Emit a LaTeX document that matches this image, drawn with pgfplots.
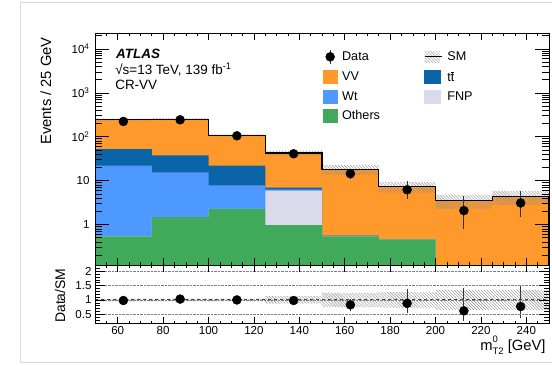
\documentclass[border=0pt]{standalone}
\usepackage{fontspec}
\setmainfont{Liberation Sans}
\usepackage{pgfplots}
\usepackage{pgfplotstable}
\pgfplotsset{compat=1.18}
\usetikzlibrary{patterns}
\definecolor{cVV}{RGB}{255,153,44}
\definecolor{cTT}{RGB}{12,100,168}
\definecolor{cWT}{RGB}{77,153,255}
\definecolor{cOT}{RGB}{64,170,90}
\definecolor{cFNP}{RGB}{218,218,234}

\pgfplotstableread{
x vv tt wt fnp ot
50 0.01 0.01 0.01 0.01 0.01
50 245 52 21.9 0.54 0.54
75 252 37.6 15.4 1.47 1.47
100 107 21.9 7.8 2.27 2.27
125 42.6 6.9 6.3 5.9 0.97
150 18.1 0.56 0.55 0.54 0.54
175 7.3 0.46 0.46 0.46 0.46
200 3.5 0.01 0.01 0.01 0.01
225 4.33 0.01 0.01 0.01 0.01
250 4.33 0.01 0.01 0.01 0.01
250 0.01 0.01 0.01 0.01 0.01
}\hist

\begin{document}
\begin{tikzpicture}[x=1bp,y=1bp]
\useasboundingbox (0,0) rectangle (552,365);
\draw[gray!30, line width=1.5bp] (600,2.5) -- (20.5,2.5) -- (20.5,362.5) -- (600,362.5);

\begin{axis}[
  name=top,
  at={(95bp,100bp)}, anchor=south west,
  scale only axis, width=454bp, height=232bp,
  xmin=50, xmax=250, ymode=log, ymin=0.12, ymax=23000,
  axis on top, tick align=inside,
  xtick={60,80,...,240}, minor xtick={50,55,...,250}, xticklabel=\empty,
  ytick={1,10,100,1000,10000},
  yticklabels={1,10,10\textsuperscript{2},10\textsuperscript{3},10\textsuperscript{4}},
  minor ytick={0.2,0.3,0.4,0.5,0.6,0.7,0.8,0.9,2,3,4,5,6,7,8,9,20,30,40,50,60,70,80,90,200,300,400,500,600,700,800,900,2000,3000,4000,5000,6000,7000,8000,9000,20000},
  xtick style={/pgfplots/major tick length=7bp,/pgfplots/minor tick length=3.5bp},
  ytick style={/pgfplots/major tick length=14bp,/pgfplots/minor tick length=7bp},
  tick style={black, line width=0.6bp},
  axis line style={black, line width=0.8bp},
  tick label style={font=\fontsize{11.6}{13}\selectfont},
  yticklabel style={xshift=-2bp},
  ylabel={Events / 25 GeV},
  ylabel style={at={(axis description cs:-0.108,0.75)}, anchor=center, rotate=0, font=\fontsize{14.8}{16}\selectfont},
  legend columns=2,
  legend cell align=left,
  legend style={at={(axis description cs:0.5015,0.930)}, anchor=north west,
    draw=none, fill=none, inner sep=0pt, outer sep=0pt,
    font=\fontsize{12.7}{14}\selectfont,
    nodes={inner sep=0pt},
    column sep=4.4bp, row sep=6bp,
    /tikz/every even column/.append style={column sep=44bp}},
]
\addlegendimage{legend image code/.code={\draw[black!80,line width=1.2bp] (7.3bp,-7bp)--(7.3bp,7bp); \fill[black] (7.3bp,0bp) circle (4.5bp);}}
\addlegendentry{Data}
\addlegendimage{legend image code/.code={\path[draw=none,pattern=north west lines,pattern color=black!35] (0bp,-5.5bp) rectangle (15.3bp,5.5bp); \draw[black,line width=1.2bp] (0bp,0bp)--(17.7bp,0bp);}}
\addlegendentry{SM}
\addlegendimage{legend image code/.code={\fill[cVV] (0bp,-6.5bp) rectangle (14.6bp,6.5bp);}}
\addlegendentry{VV}
\addlegendimage{legend image code/.code={\fill[cTT] (0bp,-6.5bp) rectangle (15.3bp,6.5bp);}}
\addlegendentry{t$\overline{\mbox{t}}$}
\addlegendimage{legend image code/.code={\fill[cWT] (0bp,-6.5bp) rectangle (14.6bp,6.5bp);}}
\addlegendentry{Wt}
\addlegendimage{legend image code/.code={\fill[cFNP] (0bp,-6.5bp) rectangle (15.3bp,6.5bp);}}
\addlegendentry{FNP}
\addlegendimage{legend image code/.code={\fill[cOT] (0bp,-6.5bp) rectangle (14.6bp,6.5bp);}}
\addlegendentry{Others}

\addplot[forget plot, const plot mark left, draw=none, fill=cVV] table[x=x,y=vv]{\hist};
\addplot[forget plot, const plot mark left, draw=none, fill=cTT] table[x=x,y=tt]{\hist};
\addplot[forget plot, const plot mark left, draw=none, fill=cWT] table[x=x,y=wt]{\hist};
\addplot[forget plot, const plot mark left, draw=none, fill=cFNP] table[x=x,y=fnp]{\hist};
\addplot[forget plot, const plot mark left, draw=none, fill=cOT] table[x=x,y=ot]{\hist};

\addplot[forget plot, draw=none, pattern=north west lines, pattern color=black!45] coordinates {
(50,257.3)(75,257.3)(75,264.6)(100,264.6)(100,112.4)(125,112.4)(125,48.1)(150,48.1)
(150,22.6)(175,22.6)(175,9.27)(200,9.27)(200,4.73)(225,4.73)(225,5.85)(250,5.85)
(250,2.81)(225,2.81)(225,2.28)(200,2.28)(200,5.33)(175,5.33)(175,13.6)(150,13.6)
(150,37.1)(125,37.1)(125,101.7)(100,101.7)(100,239.4)(75,239.4)(75,232.8)(50,232.8)} -- cycle;

\addplot[forget plot, const plot mark left, black, line width=1.1bp] table[x=x,y=vv]{\hist};

\addplot[forget plot, only marks, mark=*, mark size=4.5bp, black,
  error bars/.cd, y dir=both, y explicit, error mark=none,
  error bar style={line width=1.2bp, black!80}]
coordinates {
(62.5,223) +- (0,15)
(87.5,243) +- (0,15.6)
(112.5,105) +- (0,10)
(137.5,41) +- (0,6.4)
(162.5,14.4) += (0,3.4) -= (0,3.3)
(187.5,6.2) += (0,3.5) -= (0,2.4)
(212.5,2.08) += (0,2.5) -= (0,1.3)
(237.5,3.1) += (0,2.8) -= (0,1.63)
};

\node[anchor=base west, font=\fontsize{13.5}{15}\selectfont\bfseries\itshape] at (axis description cs:0.039,0.891) {ATLAS};
\node[anchor=base west, font=\fontsize{13.5}{15}\selectfont] at (axis description cs:0.037,0.819) {√s=13 TeV, 139 fb\textsuperscript{-1}};
\node[anchor=base west, font=\fontsize{13.5}{15}\selectfont] at (axis description cs:0.037,0.757) {CR-VV};
\end{axis}

\begin{axis}[
  at={(95bp,41.3bp)}, anchor=south west,
  scale only axis, width=454bp, height=58.7bp,
  xmin=50, xmax=250, ymin=0.17, ymax=2.22,
  axis on top, tick align=inside,
  xtick={60,80,...,240}, minor xtick={50,55,...,250},
  ytick={0.5,1,1.5,2},
  minor ytick={0.2,0.3,0.4,0.6,0.7,0.8,0.9,1.1,1.2,1.3,1.4,1.6,1.7,1.8,1.9,2.1,2.2},
  xtick style={/pgfplots/major tick length=7bp,/pgfplots/minor tick length=3bp},
  ytick style={/pgfplots/major tick length=10bp,/pgfplots/minor tick length=5bp},
  tick style={black, line width=0.6bp},
  axis line style={black, line width=0.8bp},
  /pgf/number format/assume math mode=true,
  tick label style={font=\fontsize{11.6}{13}\selectfont},
  xticklabel style={yshift=0.5bp},
  ymajorgrids, major grid style={densely dotted, gray, line width=0.8bp},
  ylabel={Data/SM},
  ylabel style={at={(axis description cs:-0.077,0.478)}, anchor=center, rotate=0, font=\fontsize{14}{16}\selectfont},
  xlabel={m\rlap{\raisebox{0.5em}{\fontsize{9.5}{10}\selectfont 0}}\raisebox{-0.28em}{\fontsize{9.5}{10}\selectfont T2} [GeV]},
  xlabel style={at={(axis description cs:1,-0.45)}, anchor=base east, font=\fontsize{14.8}{16}\selectfont},
]
\addplot[forget plot, draw=none, pattern=north west lines, pattern color=black!45] coordinates {
(50,1.05)(125,1.05)(125,1.13)(150,1.13)(150,1.25)(175,1.25)(175,1.27)(200,1.27)(200,1.35)(250,1.35)
(250,0.65)(200,0.65)(200,0.73)(175,0.73)(175,0.75)(150,0.75)(150,0.87)(125,0.87)(125,0.95)(50,0.95)} -- cycle;
\addplot[forget plot, dashed, black!75, line width=0.9bp] coordinates {(50,1) (250,1)};
\addplot[forget plot, only marks, mark=*, mark size=4.5bp, black,
  error bars/.cd, y dir=both, y explicit, error mark=none,
  error bar style={line width=1.2bp, black!80}]
coordinates {
(62.5,0.98) +- (0,0.07)
(87.5,1.03) +- (0,0.07)
(112.5,1.0) +- (0,0.1)
(137.5,0.98) +- (0,0.15)
(162.5,0.83) += (0,0.22) -= (0,0.2)
(187.5,0.88) += (0,0.5) -= (0,0.35)
(212.5,0.62) += (0,0.78) -= (0,0.37)
(237.5,0.77) += (0,0.72) -= (0,0.41)
};
\end{axis}
\end{tikzpicture}
\end{document}
